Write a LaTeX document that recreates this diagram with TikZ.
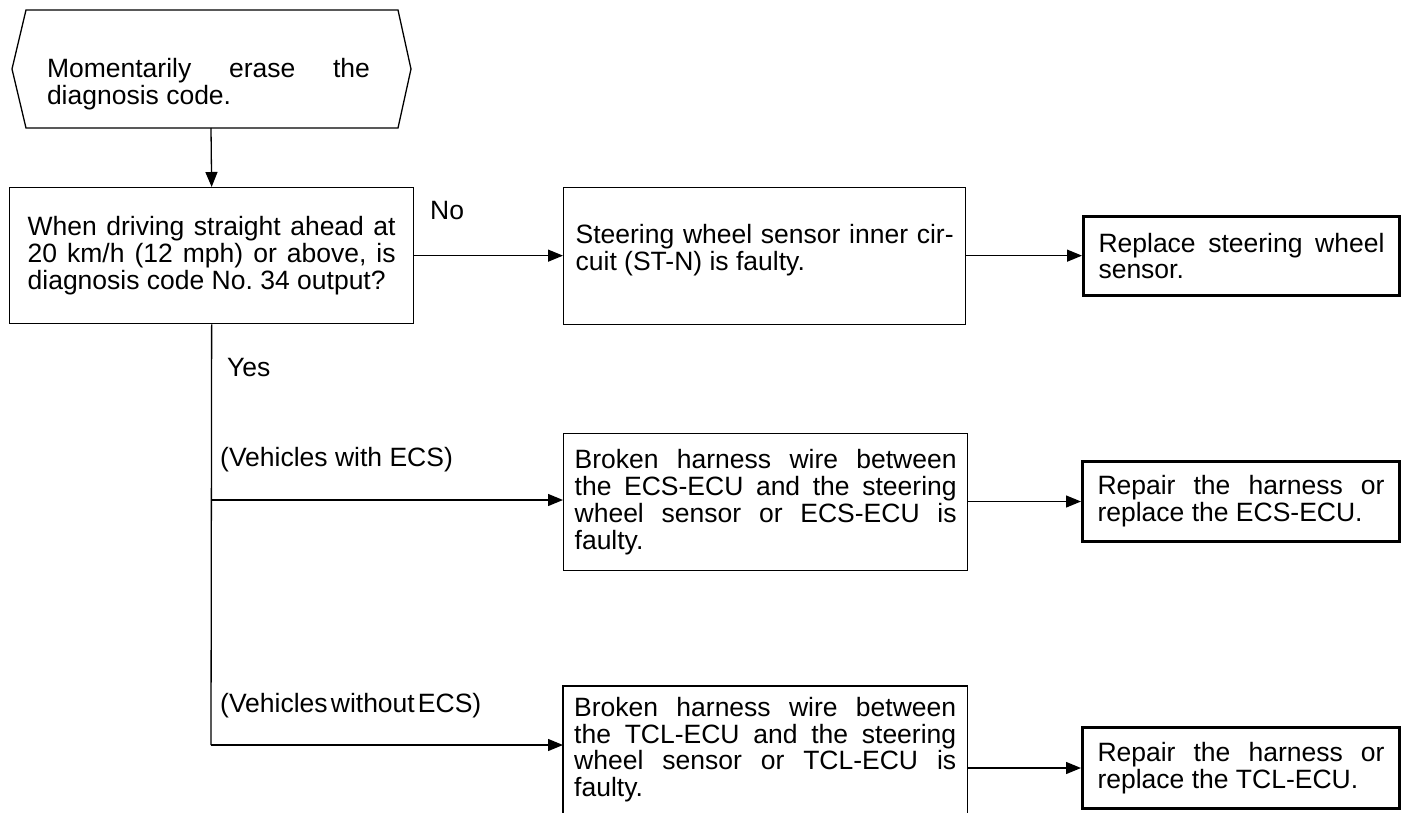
\documentclass[tikz,border=0pt]{standalone}
\usepackage{fontspec}
\setmainfont{Liberation Sans}
\usetikzlibrary{arrows.meta}
% a line of a justified paragraph, spread to the full text width
\newcommand{\jline}[1]{\makebox[\hsize][s]{\spaceskip=0.278em plus 1fil\relax #1}}
\begin{document}
\frenchspacing
\begin{tikzpicture}[x=1pt, y=-1pt,
  every node/.style={font=\fontsize{26.5}{26.8}\selectfont},
  thinline/.style={line width=1.3pt},
  box/.style={draw, line width=1.3pt, anchor=north west, align=flush left, inner ysep=0pt},
  endbox/.style={box, line width=3pt},
  arr/.style={line width=1.3pt, -{Triangle[length=15pt,width=12pt]}},
  lbl/.style={anchor=base west, inner sep=0pt}]
\useasboundingbox (0,0) rectangle (1407,813);

% start step: hexagon
\draw[thinline, line join=miter] (12,69) -- (26,10) -- (398,10) -- (411,69) -- (398,128) -- (26,128) -- cycle;
\node[inner sep=0pt, text width=323pt, align=flush left] (erase) at (208.5,84)
  {\jline{Momentarily erase the}\\diagnosis code.};
\coordinate (hexbot) at (211,128);

% check
\node[box, minimum width=404pt, minimum height=136pt, text width=368pt, inner xsep=18pt] (q) at (9,187)
  {\jline{When driving straight ahead at}\\\jline{20 km/h (12 mph) or above, is}\\diagnosis code No. 34 output?};

% results and remedies
\node[box, minimum width=402pt, minimum height=137pt, text width=378pt, inner xsep=12pt] (st) at (563,187)
  {\jline{Steering wheel sensor inner cir-}\\cuit (ST-N) is faulty.\\[-10pt]\mbox{}};
\node[endbox, minimum width=316pt, minimum height=79pt, text width=286pt, inner xsep=15pt] (rep1) at (1082,215)
  {\jline{Replace steering wheel}\\sensor.};

\node[box, minimum width=404pt, minimum height=137pt, text width=382pt, inner xsep=11pt] (ecs) at (563,433)
  {\jline{Broken harness wire between}\\\jline{the ECS-ECU and the steering}\\\jline{wheel sensor or ECS-ECU is}\\faulty.};
\node[endbox, minimum width=317pt, minimum height=80pt, text width=287pt, inner xsep=15pt] (rep2) at (1081,460)
  {\jline{Repair the harness or}\\replace the ECS-ECU.};

\node[anchor=north west, align=flush left, inner ysep=0pt, inner xsep=11pt, minimum width=404pt, minimum height=127pt, text width=382pt] (tcl) at (563,686)
  {\jline{Broken harness wire between}\\\jline{the TCL-ECU and the steering}\\\jline{wheel sensor or TCL-ECU is}\\faulty.};
\draw[thinline] (tcl.south west) -- (tcl.north west) -- (tcl.north east) -- (tcl.south east);
\node[endbox, minimum width=317pt, minimum height=81pt, text width=287pt, inner xsep=15pt] (rep3) at (1081,726)
  {\jline{Repair the harness or}\\replace the TCL-ECU.};

% branch labels
\node[lbl] (no) at (430,219) {No};
\node[lbl] (yes) at (227,376) {Yes};
\node[lbl] (withecs) at (220,466) {(Vehicles with ECS)};
\node[lbl] (noecs) at (220,712) {\spaceskip=0.12em\relax(Vehicles without ECS)};

% connectors
\coordinate (ecsjoin) at (211,500);
\coordinate (tcljoin) at (211,745);
\draw[arr] (hexbot) -- (q.north);
\draw[arr] (q.east) -- (q.east -| st.west);
\draw[arr] (st.east |- q.east) -- (q.east -| rep1.west);
\draw[thinline] (q.south) -- (tcljoin);
\draw[arr] (ecsjoin) -- (ecsjoin -| ecs.west);
\draw[arr] (tcljoin) -- (tcljoin -| tcl.west);
\draw[arr] (ecs.east |- rep2.west) -- (rep2.west);
\draw[arr] (tcl.east |- rep3.west) -- (rep3.west);
\end{tikzpicture}
\end{document}
